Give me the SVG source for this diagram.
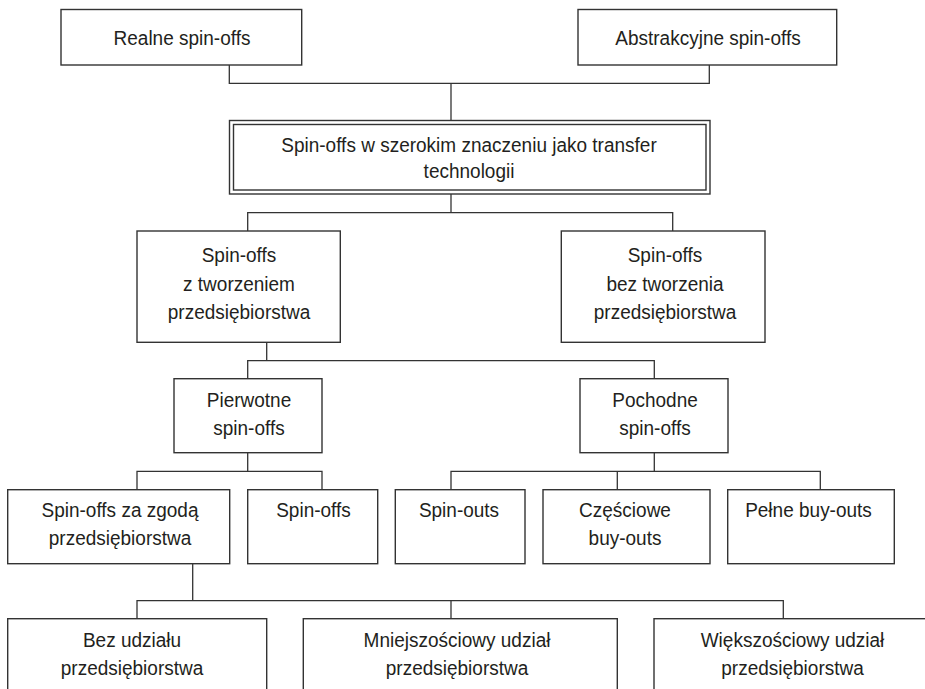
<svg xmlns="http://www.w3.org/2000/svg" width="925" height="689" viewBox="0 0 925 689">
  <style>
    .box { fill: #ffffff; stroke: #333333; stroke-width: 1.4; }
    .link { fill: none; stroke: #333333; stroke-width: 1.3; }
    .label { font-family: "Liberation Sans", Arial, sans-serif; font-size: 21px; fill: #231f20; text-anchor: middle; }
  </style>
  <rect width="925" height="689" fill="#ffffff"/>

  <!-- connectors -->
  <g id="connectors">
    <polyline class="link" points="229.3,65 229.3,83.3 709.3,83.3 709.3,65"/>
    <line class="link" x1="451" y1="83.3" x2="451" y2="120.5"/>
    <line class="link" x1="451" y1="194" x2="451" y2="212.7"/>
    <polyline class="link" points="247.7,231 247.7,212.7 672.7,212.7 672.7,231"/>
    <line class="link" x1="266.7" y1="342.3" x2="266.7" y2="360.7"/>
    <polyline class="link" points="247.7,378.7 247.7,360.7 654.3,360.7 654.3,378.7"/>
    <line class="link" x1="247.7" y1="452.7" x2="247.7" y2="471.3"/>
    <polyline class="link" points="137,489.7 137,471.3 322,471.3 322,489.7"/>
    <line class="link" x1="654.3" y1="452.7" x2="654.3" y2="471.3"/>
    <polyline class="link" points="451,489.7 451,471.3 820.3,471.3 820.3,489.7"/>
    <line class="link" x1="617.3" y1="471.3" x2="617.3" y2="489.7"/>
    <line class="link" x1="192.7" y1="563.7" x2="192.7" y2="600.7"/>
    <polyline class="link" points="137,618.7 137,600.7 783.3,600.7 783.3,618.7"/>
    <line class="link" x1="451" y1="600.7" x2="451" y2="618.7"/>
  </g>

  <!-- labels use a slightly condensed sans: translate to the anchor point, then narrow -->
  <g id="realne">
    <rect class="box" x="61" y="9.5" width="240.7" height="55.5"/>
    <text class="label" transform="translate(182 45) scale(0.905 1)">Realne spin-offs</text>
  </g>

  <g id="abstrakcyjne">
    <rect class="box" x="578" y="9.5" width="258.7" height="55.5"/>
    <text class="label" transform="translate(708 45) scale(0.905 1)">Abstrakcyjne spin-offs</text>
  </g>

  <g id="transfer">
    <rect class="box" x="229.5" y="120.5" width="480.5" height="73.5"/>
    <rect class="box" x="233.5" y="124.5" width="472.5" height="65.5"/>
    <text class="label" transform="translate(469 151.7) scale(0.905 1)">Spin-offs w szerokim znaczeniu jako transfer</text>
    <text class="label" transform="translate(469 178) scale(0.905 1)">technologii</text>
  </g>

  <g id="z-tworzeniem">
    <rect class="box" x="137" y="231" width="203.3" height="111.3"/>
    <text class="label" transform="translate(239 262) scale(0.905 1)">Spin-offs</text>
    <text class="label" transform="translate(239 290.5) scale(0.905 1)">z tworzeniem</text>
    <text class="label" transform="translate(239 319) scale(0.905 1)">przedsiębiorstwa</text>
  </g>

  <g id="bez-tworzenia">
    <rect class="box" x="561.3" y="231" width="203.7" height="111.3"/>
    <text class="label" transform="translate(665 262) scale(0.905 1)">Spin-offs</text>
    <text class="label" transform="translate(665 290.5) scale(0.905 1)">bez tworzenia</text>
    <text class="label" transform="translate(665 319) scale(0.905 1)">przedsiębiorstwa</text>
  </g>

  <g id="pierwotne">
    <rect class="box" x="174" y="378.7" width="148" height="74"/>
    <text class="label" transform="translate(249 406.7) scale(0.905 1)">Pierwotne</text>
    <text class="label" transform="translate(249 435) scale(0.905 1)">spin-offs</text>
  </g>

  <g id="pochodne">
    <rect class="box" x="580" y="378.7" width="148" height="74"/>
    <text class="label" transform="translate(655 406.7) scale(0.905 1)">Pochodne</text>
    <text class="label" transform="translate(655 435) scale(0.905 1)">spin-offs</text>
  </g>

  <g id="za-zgoda">
    <rect class="box" x="7.7" y="489.7" width="222" height="74"/>
    <text class="label" transform="translate(120 517.3) scale(0.905 1)">Spin-offs za zgodą</text>
    <text class="label" transform="translate(120 545) scale(0.905 1)">przedsiębiorstwa</text>
  </g>

  <g id="spin-offs">
    <rect class="box" x="247.7" y="489.7" width="130" height="74"/>
    <text class="label" transform="translate(313.5 517.3) scale(0.905 1)">Spin-offs</text>
  </g>

  <g id="spin-outs">
    <rect class="box" x="395.3" y="489.7" width="129.7" height="74"/>
    <text class="label" transform="translate(459 517.3) scale(0.905 1)">Spin-outs</text>
  </g>

  <g id="czesciowe">
    <rect class="box" x="543" y="489.7" width="167" height="74"/>
    <text class="label" transform="translate(625 517.3) scale(0.905 1)">Częściowe</text>
    <text class="label" transform="translate(625 545) scale(0.905 1)">buy-outs</text>
  </g>

  <g id="pelne">
    <rect class="box" x="727.7" y="489.7" width="166.6" height="74"/>
    <text class="label" transform="translate(808.5 517.3) scale(0.905 1)">Pełne buy-outs</text>
  </g>

  <g id="bez-udzialu">
    <rect class="box" x="7.7" y="618.7" width="259" height="90"/>
    <text class="label" transform="translate(132 646.7) scale(0.905 1)">Bez udziału</text>
    <text class="label" transform="translate(132 675) scale(0.905 1)">przedsiębiorstwa</text>
  </g>

  <g id="mniejszosciowy">
    <rect class="box" x="303.3" y="618.7" width="314" height="90"/>
    <text class="label" transform="translate(457 646.7) scale(0.905 1)">Mniejszościowy udział</text>
    <text class="label" transform="translate(457 675) scale(0.905 1)">przedsiębiorstwa</text>
  </g>

  <g id="wiekszosciowy">
    <rect class="box" x="654" y="618.7" width="290" height="90"/>
    <text class="label" transform="translate(792.5 646.7) scale(0.905 1)">Większościowy udział</text>
    <text class="label" transform="translate(792.5 675) scale(0.905 1)">przedsiębiorstwa</text>
  </g>
</svg>
